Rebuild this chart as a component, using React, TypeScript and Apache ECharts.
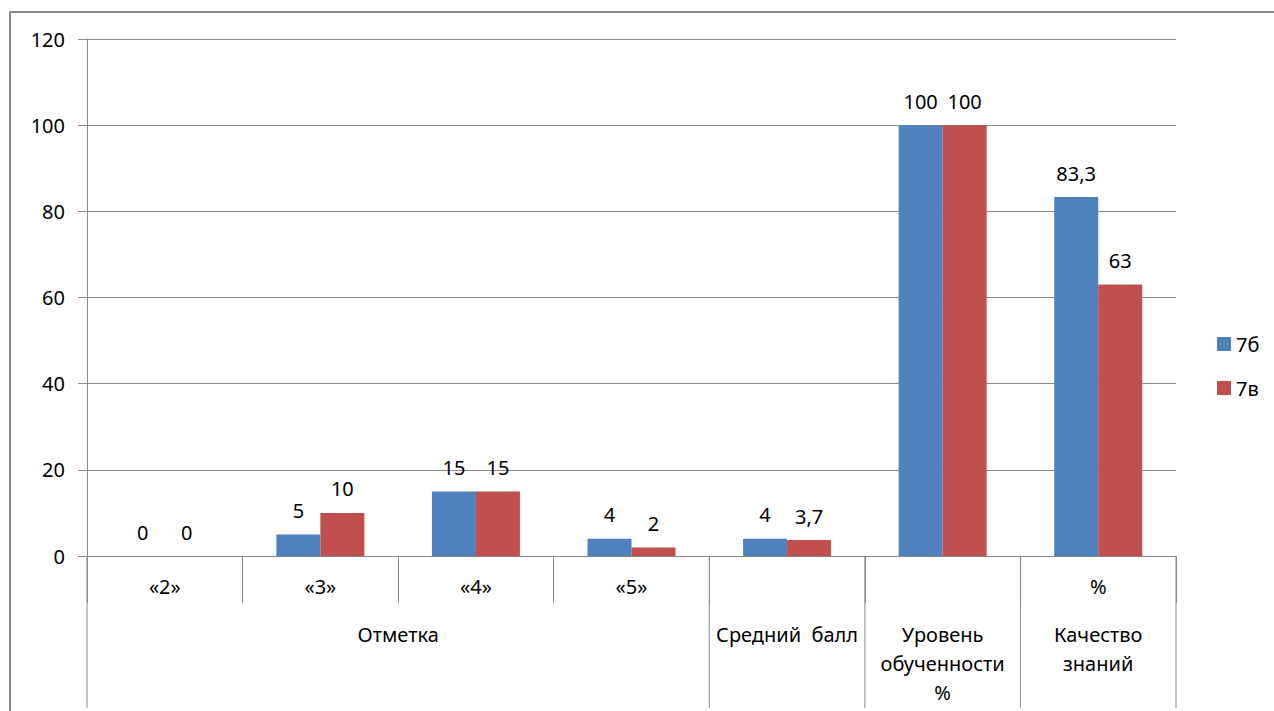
import React, { useEffect, useRef } from "react";
import * as echarts from "echarts";

// Category labels (first row under the axis) and their group headers (second row)
const marks = ["«2»", "«3»", "«4»", "«5»", "", "", "%"];
const groups = [
  { label: "Отметка", from: 0, to: 3 },
  { label: "Средний  балл", from: 4, to: 4 },
  { label: "Уровень\nобученности\n%", from: 5, to: 5 },
  { label: "Качество\nзнаний", from: 6, to: 6 },
];

const seriesNames = ["7б", "7в"];
const class7b = [0, 5, 15, 4, 4, 100, 83.3];
const class7v = [0, 10, 15, 2, 3.7, 100, 63];

const yMin = 0;
const yMax = 120;
const yStep = 20;

const FONT = "'Noto Sans', 'DejaVu Sans', sans-serif";
const FS = 20;
const GRAY = "#898989";

export default function App() {
  const ref = useRef<HTMLDivElement>(null);

  useEffect(() => {
    if (!ref.current) return;
    const chart = echarts.init(ref.current, undefined, { renderer: "svg" });
    const fmt = (p: any) => String(p.value).replace(".", ",");
    const label = {
      show: true,
      position: "top" as const,
      distance: 14,
      formatter: fmt,
      fontFamily: FONT,
      fontSize: FS,
      color: "#000",
    };
    chart.setOption({
      animation: false,
      textStyle: { fontFamily: FONT },
      grid: { left: 87, right: 98, top: 39, bottom: 155, containLabel: false },
      legend: {
        orient: "vertical",
        left: 1212,
        top: 329,
        itemWidth: 14,
        itemHeight: 14,
        itemGap: 24,
        icon: "rect",
        textStyle: { fontFamily: FONT, fontSize: FS, color: "#000" },
        data: seriesNames,
      },
      xAxis: {
        type: "category",
        data: marks,
        axisLine: { lineStyle: { color: GRAY, width: 1 } },
        axisTick: { show: true, length: 47, lineStyle: { color: GRAY } },
        axisLabel: {
          fontFamily: FONT,
          fontSize: FS,
          color: "#000",
          margin: 20,
          interval: 0,
        },
      },
      yAxis: {
        type: "value",
        min: yMin,
        max: yMax,
        interval: yStep,
        axisLine: { show: true, lineStyle: { color: GRAY } },
        axisTick: { show: true, length: 9, lineStyle: { color: GRAY } },
        splitLine: { lineStyle: { color: GRAY, width: 1 } },
        axisLabel: { fontFamily: FONT, fontSize: FS, color: "#000", margin: 22 },
      },
      series: [
        {
          name: seriesNames[0],
          type: "bar",
          data: class7b,
          barWidth: 44,
          barGap: "0%",
          itemStyle: { color: "#4F81BD" },
          label,
        },
        {
          name: seriesNames[1],
          type: "bar",
          data: class7v,
          barWidth: 44,
          barGap: "0%",
          itemStyle: { color: "#C0504D" },
          label,
        },
      ],
    });

    // Second row of the category axis: group headers and their separators
    const c0 = chart.convertToPixel({ xAxisIndex: 0 }, 0) as number;
    const c1 = chart.convertToPixel({ xAxisIndex: 0 }, 1) as number;
    const w = c1 - c0;
    const axisY = chart.convertToPixel({ yAxisIndex: 0 }, 0) as number;
    const bottom = chart.getHeight() - 3;
    const edge = (i: number) => c0 - w / 2 + i * w;

    const elements: any[] = [
      {
        type: "rect",
        shape: { x: 10, y: 12, width: chart.getWidth() + 20, height: chart.getHeight() + 20 },
        style: { fill: "none", stroke: GRAY, lineWidth: 2 },
        silent: true,
      },
    ];
    const seps = new Set<number>();
    groups.forEach((g) => {
      seps.add(g.from);
      seps.add(g.to + 1);
      elements.push({
        type: "text",
        x: (edge(g.from) + edge(g.to + 1)) / 2,
        y: axisY + 64,
        style: {
          text: g.label,
          fontFamily: FONT,
          fontSize: FS,
          lineHeight: 29,
          fill: "#000",
          align: "center",
          verticalAlign: "top",
        },
        silent: true,
      });
    });
    seps.forEach((i) => {
      elements.push({
        type: "line",
        shape: { x1: edge(i), y1: axisY, x2: edge(i), y2: bottom },
        style: { stroke: GRAY, lineWidth: 1 },
        silent: true,
      });
    });
    chart.setOption({ graphic: elements });

    return () => chart.dispose();
  }, []);

  return (
    <div
      ref={ref}
      style={{ position: "fixed", left: 0, top: 0, width: 1274, height: 711, background: "#fff" }}
    />
  );
}
